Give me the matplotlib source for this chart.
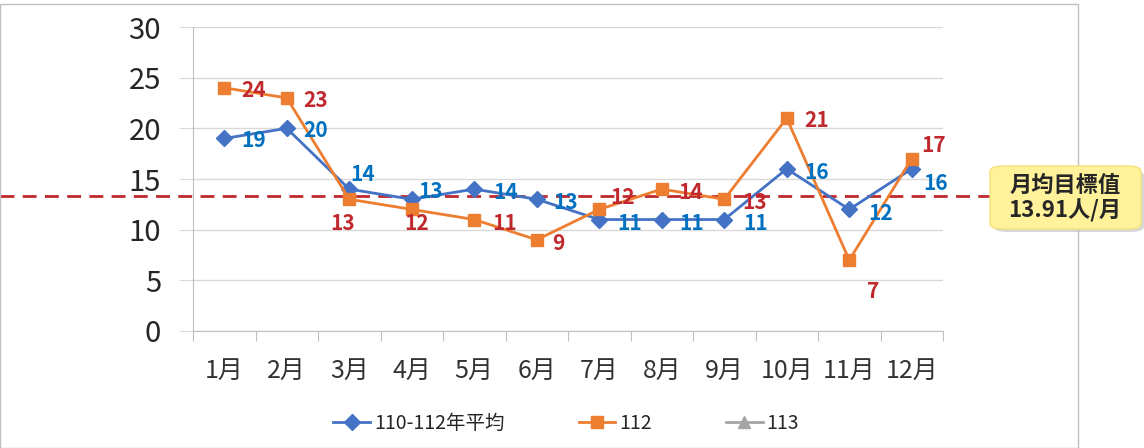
import matplotlib
matplotlib.use("Agg")
import matplotlib.pyplot as plt
from matplotlib.patches import Rectangle, FancyBboxPatch
import matplotlib.transforms as mtransforms

plt.rcParams['font.family'] = ['Noto Sans CJK TC', 'DejaVu Sans']

months = ['1月', '2月', '3月', '4月', '5月', '6月', '7月', '8月', '9月', '10月', '11月', '12月']
avg_110_112 = [19, 20, 14, 13, 14, 13, 11, 11, 11, 16, 12, 16]
y112 = [24, 23, 13, 12, 11, 9, 12, 14, 13, 21, 7, 17]
y113 = []
target = 13.91
target_line = 13.3   # drawn position of the dashed target line in the original

# label offsets in pixels (dx, dy)
blue_off = [(29, -2), (29, -2), (13, 15), (19, 8), (31, -3), (29, -3), (30, -4), (30, -4), (31, -4), (30, -4), (31, -4), (24, -15)]
red_off = [(29, -3), (29, -3), (-7, -24), (5, -14), (30, -4), (22, -4), (23, 12), (29, -3), (30, -3), (30, -2), (24, -31), (22, 13)]

fig = plt.figure(figsize=(11.44, 4.48), dpi=100)
ax = fig.add_axes([193/1144, 1-331/448, 750/1144, 304/448])

x = list(range(len(months)))
ax.plot(x, avg_110_112, color='#4472C4', lw=2, marker='D', ms=8, label='110-112年平均', zorder=3)
ax.plot(x, y112, color='#ED7D31', lw=2, marker='s', ms=9, label='112', zorder=4)
ax.plot(x[:len(y113)], y113, color='#A5A5A5', lw=2, marker='^', ms=9, label='113')

for i, v in enumerate(avg_110_112):
    ax.annotate(str(v), (i, v), xytext=blue_off[i], textcoords='offset pixels',
                ha='center', va='center', color='#0070C0', fontsize=15, fontweight='bold', zorder=5)
for i, v in enumerate(y112):
    ax.annotate(str(v), (i, v), xytext=red_off[i], textcoords='offset pixels',
                ha='center', va='center', color='#C0282D', fontsize=15, fontweight='bold', zorder=5)

ax.set_xlim(-0.5, 11.5)
ax.set_ylim(0, 30)
ax.set_yticks(range(0, 31, 5))
ax.yaxis.grid(True, color='#D9D9D9', lw=1)
ax.set_axisbelow(True)
ax.set_xticks([i + 0.5 for i in range(-1, 12)], minor=False)
ax.set_xticklabels([])
ax.set_xticks(x, minor=True)
ax.set_xticklabels(months, minor=True)
ax.tick_params(axis='x', which='major', length=7, color='#BFBFBF', direction='out')
ax.tick_params(axis='x', which='minor', length=0, pad=19, labelsize=18, labelcolor='#333333')
ax.tick_params(axis='y', length=10, color='#D9D9D9', pad=13, labelsize=21, labelcolor='#262626')
for s in ['top', 'right']:
    ax.spines[s].set_visible(False)
ax.spines['left'].set_color('#BFBFBF')
ax.spines['bottom'].set_color('#BFBFBF')

# dashed target line across the chart
trans = mtransforms.blended_transform_factory(fig.transFigure, ax.transData)
ax.plot([0, 990/1144], [target_line, target_line], transform=trans, color='#C0282D',
        lw=2, ls=(0, (5, 3)), clip_on=False, zorder=2)

# chart border
fig.patches.append(Rectangle((0, 0), 1078/1144, 444/448, transform=fig.transFigure,
                             fill=False, edgecolor='#BFBFBF', lw=1))

# callout box with shadow
shadow = FancyBboxPatch((994/1144, 1-232/448), 150/1144, 62/448, boxstyle='round,pad=0,rounding_size=0.012',
                        transform=fig.transFigure, facecolor='#BDBDBD', edgecolor='none', alpha=0.6)
box = FancyBboxPatch((990/1144, 1-229/448), 151/1144, 63/448, boxstyle='round,pad=0,rounding_size=0.012',
                     transform=fig.transFigure, facecolor='#FFF29A', edgecolor='#F5E27A', lw=1)
fig.patches.append(shadow)
fig.patches.append(box)
fig.text(1065/1144, 1-198/448, '月均目標值\n%.2f人/月' % target, ha='center', va='center',
         fontsize=16, fontweight='bold', color='#262626', linespacing=1.1)

fig.legend(loc='center', bbox_to_anchor=(0.495, 1-423/448), ncol=3, frameon=False,
           fontsize=14, handlelength=1.9, handletextpad=0.2, columnspacing=3.8,
           labelcolor='#262626')

fig.savefig('out.png', dpi=100)
